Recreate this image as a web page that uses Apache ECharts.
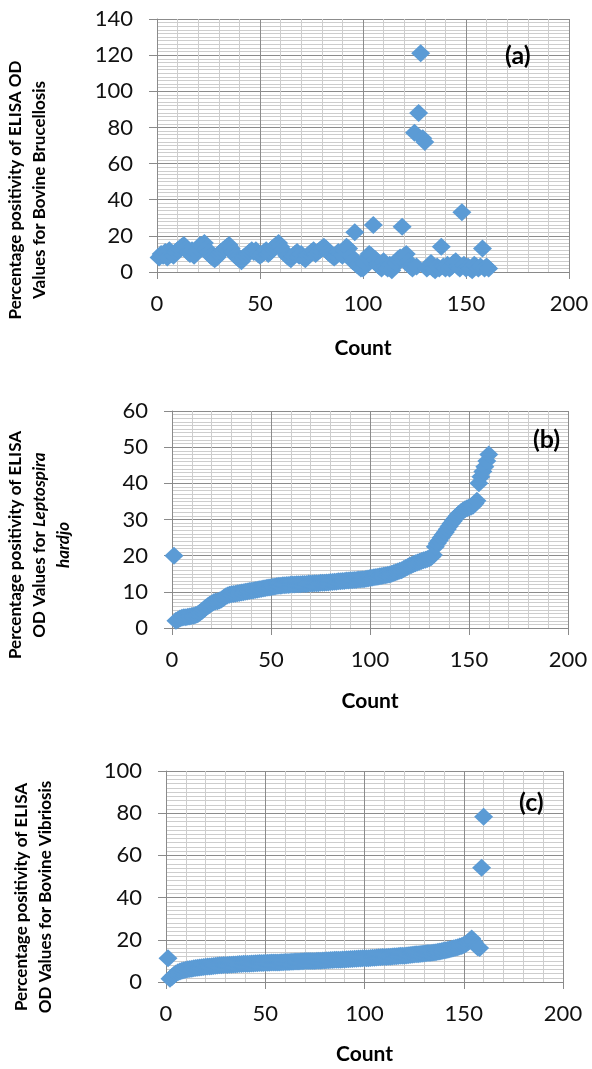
<!DOCTYPE html>
<html style="height: 100%">

<head>
	<meta charset="utf-8">
</head>

<body style="height: 100%; margin: 0; background: #fff">
	<div id="container" style="width: 592px; height: 1069px"></div>
	<script type="text/javascript" src="https://cdn.jsdelivr.net/npm/echarts@6/dist/echarts.min.js"></script>
	<script type="text/javascript">
		// (a) Bovine Brucellosis, one value per count 1..161
		let brucellosis = [
			8, 10, 9, 11, 8, 12, 10, 9, 11, 12,
			13, 14, 15, 13, 11, 10, 12, 9, 11, 13,
			15, 14, 16, 13, 11, 9, 8, 7, 8, 10,
			11, 12, 13, 14, 15, 13, 11, 9, 8, 7,
			6, 8, 9, 10, 11, 12, 11, 12, 10, 9,
			10, 11, 12, 10, 11, 13, 14, 15, 16, 14,
			12, 11, 9, 8, 7, 9, 10, 11, 9, 10,
			8, 7, 9, 10, 11, 12, 10, 11, 12, 13,
			14, 13, 11, 10, 9, 8, 9, 11, 10, 9,
			12, 14, 13, 9, 6, 22, 4, 3, 2, 2,
			5, 8, 10, 9, 26, 7, 4, 3, 2, 6,
			3, 2, 4, 1, 3, 5, 7, 8, 25, 9,
			10, 6, 3, 2, 77, 3, 88, 121, 74, 72,
			2, 3, 5, 2, 1, 3, 2, 14, 3, 2,
			4, 2, 3, 5, 6, 3, 2, 33, 4, 2,
			3, 2, 1, 4, 3, 2, 3, 13, 2, 3, 2
		];

		// (b) Leptospira hardjo, count 1..160
		let leptospira = [
			20, 2.0, 2.3, 2.6, 2.8, 3.0, 3.0, 3.1, 3.2, 3.3,
			3.4, 3.6, 3.8, 4.2, 4.6, 5.1, 5.6, 6.0, 6.4, 6.8,
			7.1, 7.3, 7.4, 7.6, 7.9, 8.3, 8.7, 9.0, 9.2, 9.3,
			9.4, 9.5, 9.6, 9.7, 9.8, 9.9, 10.0, 10.1, 10.2, 10.3,
			10.4, 10.5, 10.6, 10.7, 10.8, 10.9, 11.0, 11.1, 11.2, 11.3,
			11.4, 11.5, 11.6, 11.7, 11.7, 11.8, 11.8, 11.9, 11.9, 12.0,
			12.0, 12.0, 12.1, 12.1, 12.1, 12.2, 12.2, 12.2, 12.3, 12.3,
			12.3, 12.4, 12.4, 12.4, 12.5, 12.5, 12.5, 12.6, 12.6, 12.7,
			12.7, 12.8, 12.8, 12.9, 12.9, 13.0, 13.0, 13.1, 13.1, 13.2,
			13.2, 13.3, 13.3, 13.4, 13.4, 13.5, 13.5, 13.6, 13.7, 13.8,
			13.9, 14.0, 14.1, 14.2, 14.3, 14.4, 14.5, 14.6, 14.7, 14.8,
			15.0, 15.2, 15.4, 15.6, 15.8, 16.0, 16.3, 16.6, 16.9, 17.2,
			17.4, 17.7, 17.9, 18.1, 18.3, 18.5, 18.7, 18.9, 19.1, 19.3,
			19.6, 20.2, 22.5, 23.4, 24.2, 25.0, 25.8, 26.5, 27.3, 28.1,
			28.9, 29.6, 30.3, 31.0, 31.6, 32.1, 32.5, 32.8, 33.1, 33.3,
			33.5, 33.8, 34.4, 35.2, 40.0, 41.8, 43.3, 44.6, 46.2, 48.0
		];

		// (c) Bovine Vibriosis, count 1..160
		let vibriosis = [
			11.2, 1.5, 2.4, 3.3, 4.0, 4.6, 5.0, 5.3, 5.6, 5.8,
			6.0, 6.2, 6.3, 6.5, 6.6, 6.7, 6.9, 7.0, 7.1, 7.2,
			7.3, 7.4, 7.5, 7.6, 7.7, 7.8, 7.9, 7.9, 8.0, 8.1,
			8.1, 8.2, 8.2, 8.3, 8.3, 8.4, 8.5, 8.5, 8.6, 8.6,
			8.7, 8.7, 8.8, 8.8, 8.9, 8.9, 9.0, 9.0, 9.0, 9.1,
			9.1, 9.1, 9.2, 9.2, 9.2, 9.3, 9.3, 9.4, 9.4, 9.5,
			9.5, 9.5, 9.6, 9.6, 9.7, 9.7, 9.7, 9.8, 9.8, 9.9,
			9.9, 9.9, 10.0, 10.0, 10.0, 10.1, 10.1, 10.1, 10.2, 10.2,
			10.3, 10.3, 10.4, 10.4, 10.5, 10.5, 10.6, 10.6, 10.7, 10.7,
			10.8, 10.8, 10.9, 10.9, 11.0, 11.0, 11.1, 11.1, 11.2, 11.2,
			11.3, 11.3, 11.4, 11.5, 11.5, 11.6, 11.7, 11.7, 11.8, 11.9,
			11.9, 12.0, 12.0, 12.1, 12.2, 12.2, 12.3, 12.4, 12.4, 12.5,
			12.6, 12.7, 12.8, 12.9, 13.0, 13.1, 13.2, 13.3, 13.4, 13.5,
			13.6, 13.7, 13.8, 13.9, 14.0, 14.1, 14.3, 14.5, 14.7, 14.9,
			15.1, 15.3, 15.5, 15.8, 16.0, 16.2, 16.5, 16.8, 17.1, 17.5,
			18.0, 18.7, 19.5, 20.6, 19.2, 17.5, 16.5, 16.1, 54.1, 78.3
		];

		let yMax = [140, 60, 100];
		let yStep = [20, 10, 20];
		let panelTags = ['(a)', '(b)', '(c)'];

		let dom = document.getElementById("container");
		let myChart = echarts.init(dom);

		const FONT = 'Lato, "Open Sans", sans-serif';
		const BLUE = '#5B9BD5';

		// pixel boxes of the three plot areas
		let grids = [
			{ left: 157, top: 19, width: 412, height: 253 },
			{ left: 172, top: 411, width: 396, height: 217 },
			{ left: 166, top: 771, width: 397, height: 211 }
		];

		function toPairs(arr) {
			return arr.map(function (v, i) { return [i + 1, v]; });
		}

		function xAxisFor(i) {
			return {
				gridIndex: i,
				type: 'value',
				min: 0, max: 200, interval: 50,
				name: 'Count',
				nameLocation: 'middle',
				nameGap: [66, 63, 62][i],
				nameTextStyle: { fontFamily: FONT, fontWeight: 'bold', fontSize: 21, color: '#000' },
				axisLine: { show: true, onZero: false, lineStyle: { color: '#8a8a8a' } },
				axisTick: { show: true, length: 7, lineStyle: { color: '#8a8a8a' } },
				axisLabel: { fontFamily: FONT, fontSize: 22, color: '#111', margin: 21 },
				splitLine: { show: true, lineStyle: { color: '#8c8c8c' } },
				minorTick: { show: false, splitNumber: 5 },
				minorSplitLine: { show: true, lineStyle: { color: '#cdcdcd' } }
			};
		}

		function yAxisFor(i) {
			return {
				gridIndex: i,
				type: 'value',
				min: 0, max: yMax[i], interval: yStep[i],
				axisLine: { show: true, lineStyle: { color: '#8a8a8a' } },
				axisTick: { show: true, length: 8, lineStyle: { color: '#8a8a8a' } },
				axisLabel: { fontFamily: FONT, fontSize: 22, color: '#111', margin: 24 },
				splitLine: { show: true, lineStyle: { color: '#8c8c8c' } },
				minorTick: { show: false, splitNumber: 10 },
				minorSplitLine: { show: true, lineStyle: { color: '#cdcdcd' } }
			};
		}

		function seriesFor(i, arr) {
			return {
				type: 'scatter',
				xAxisIndex: i,
				yAxisIndex: i,
				symbol: 'diamond',
				symbolSize: [19, 18],
				itemStyle: { color: BLUE, opacity: 1 },
				silent: true,
				data: toPairs(arr)
			};
		}

		let titleBold = { fontFamily: FONT, fontWeight: 'bold', fontSize: 17, lineHeight: 24, fill: '#000' };
		let titleItalic = { fontFamily: FONT, fontWeight: 'bold', fontStyle: 'italic', fontSize: 17, lineHeight: 24, fill: '#000' };
		let tagStyle = { fontFamily: FONT, fontWeight: 'bold', fontSize: 25, color: '#000' };

		let option = {
			animation: false,
			grid: grids,
			xAxis: [xAxisFor(0), xAxisFor(1), xAxisFor(2)],
			yAxis: [yAxisFor(0), yAxisFor(1), yAxisFor(2)],
			series: [
				seriesFor(0, brucellosis),
				seriesFor(1, leptospira),
				seriesFor(2, vibriosis)
			],
			title: [
				{ text: panelTags[0], left: 505, top: 43, padding: 0, textStyle: tagStyle },
				{ text: panelTags[1], left: 533, top: 427, padding: 0, textStyle: tagStyle },
				{ text: panelTags[2], left: 519, top: 790, padding: 0, textStyle: tagStyle }
			],
			graphic: [
				{
					type: 'text', x: 28, y: 190, rotation: Math.PI / 2,
					style: {
						text: '{n|Percentage positivity of ELISA OD}\n{n|Values for Bovine Brucellosis}',
						rich: { n: titleBold },
						align: 'center', verticalAlign: 'middle'
					}
				},
				{
					type: 'text', x: 40, y: 545, rotation: Math.PI / 2,
					style: {
						text: '{n|Percentage positivity of ELISA}\n{n|OD Values for }{i|Leptospira}\n{i|hardjo}',
						rich: { n: titleBold, i: titleItalic },
						align: 'center', verticalAlign: 'middle'
					}
				},
				{
					type: 'text', x: 34, y: 897, rotation: Math.PI / 2,
					style: {
						text: '{n|Percentage positivity of ELISA}\n{n|OD Values for Bovine Vibriosis}',
						rich: { n: titleBold },
						align: 'center', verticalAlign: 'middle'
					}
				}
			]
		};

		myChart.setOption(option);
	</script>
</body>

</html>
